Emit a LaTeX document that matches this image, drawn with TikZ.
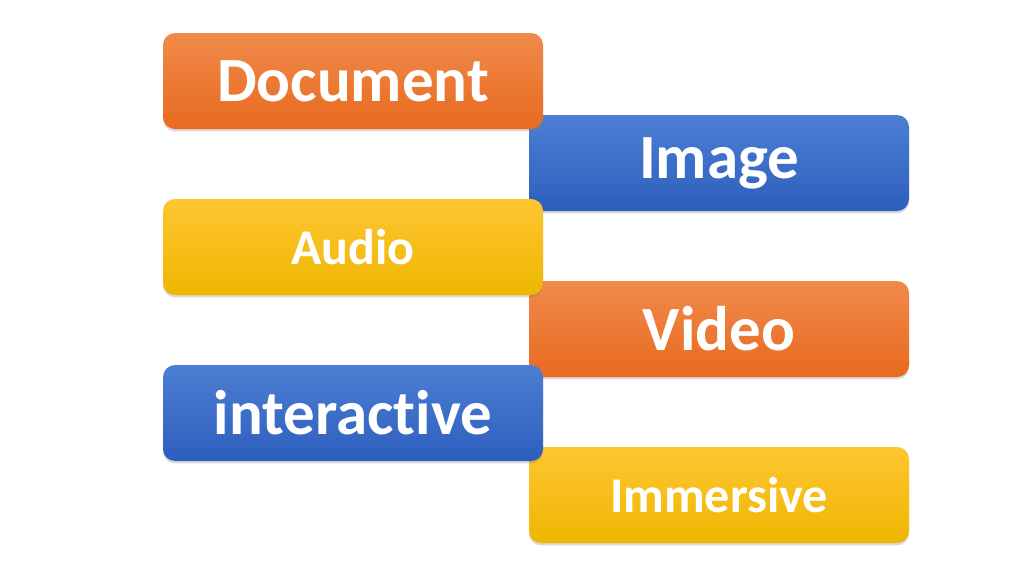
\documentclass[tikz,border=0pt]{standalone}
\usepackage{fontspec}
\setmainfont[Ligatures=NoCommon]{Carlito}
\usepackage{tikz}
\usetikzlibrary{shadows, positioning}
\definecolor{orangeTop}{HTML}{F08A4B}
\definecolor{orangeBot}{HTML}{E86A1F}
\definecolor{blueTop}{HTML}{4C7FD3}
\definecolor{blueBot}{HTML}{2E5EBD}
\definecolor{yellowTop}{HTML}{FFC533}
\definecolor{yellowBot}{HTML}{EEB700}
\tikzstyle{tile} = [rectangle, rounded corners=0.3cm, minimum width=9.5cm, minimum height=2.4cm, outer sep=0pt, inner sep=0pt, text=white, font=\bfseries, drop shadow={shadow xshift=0cm, shadow yshift=-0.06cm, opacity=0.3}]
\tikzstyle{big} = [font=\bfseries\fontsize{44.8}{50}\selectfont]
\tikzstyle{small} = [font=\bfseries\fontsize{35.6}{40}\selectfont]
\tikzstyle{orangetile} = [tile, top color=orangeTop, bottom color=orangeBot]
\tikzstyle{bluetile} = [tile, top color=blueTop, bottom color=blueBot]
\tikzstyle{yellowtile} = [tile, top color=yellowTop, bottom color=yellowBot]
\begin{document}
\begin{tikzpicture}[node distance = 1.75cm, auto]
		\useasboundingbox (0,0) rectangle (25.6,-14.4);
		% right column first, so the left one lies on top
		\node (Image) [bluetile, big] at (17.975,-4.075) {Image};
		\node (Video) [orangetile, big, below = of Image] {Video};
		\node (Immersive) [yellowtile, small, below = of Video] {Immersive};
		
		\node (Document) [orangetile, big, above left = -0.35cm and -0.35cm of Image] {Document};
		\node (Audio) [yellowtile, small, below = of Document] {Audio};
		\node (Interactive) [bluetile, big, below = of Audio] {interactive};
		\end{tikzpicture}
\end{document}
